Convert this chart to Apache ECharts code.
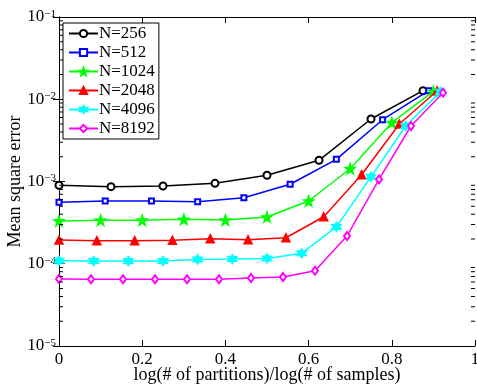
<!DOCTYPE html>
<html><head><meta charset="utf-8">
<script src="https://cdn.jsdelivr.net/npm/echarts@6/dist/echarts.min.js"></script>
<style>html,body{margin:0;padding:0;background:#fff}#c{width:477px;height:384px}</style>
</head><body><div id="c"></div>
<script>
const seriesNames = ['N=256', 'N=512', 'N=1024', 'N=2048', 'N=4096', 'N=8192'];
const x256 = [0, 0.125, 0.25, 0.375, 0.5, 0.625, 0.75, 0.875];
const y256 = [9.0e-4, 8.65e-4, 8.82e-4, 9.5e-4, 1.19e-3, 1.81e-3, 5.75e-3, 1.27e-2];
const x512 = [0, 0.1111, 0.2222, 0.3333, 0.4444, 0.5556, 0.6667, 0.7778, 0.8889];
const y512 = [5.58e-4, 5.79e-4, 5.79e-4, 5.68e-4, 6.35e-4, 9.25e-4, 1.86e-3, 5.64e-3, 1.27e-2];
const x1024 = [0, 0.1, 0.2, 0.3, 0.4, 0.5, 0.6, 0.7, 0.8, 0.9];
const y1024 = [3.31e-4, 3.38e-4, 3.38e-4, 3.47e-4, 3.40e-4, 3.70e-4, 5.79e-4, 1.43e-3, 5.19e-3, 1.25e-2];
const x2048 = [0, 0.0909, 0.1818, 0.2727, 0.3636, 0.4545, 0.5455, 0.6364, 0.7273, 0.8182, 0.9091];
const y2048 = [1.94e-4, 1.91e-4, 1.91e-4, 1.93e-4, 2.02e-4, 1.96e-4, 2.07e-4, 3.73e-4, 1.21e-3, 5.0e-3, 1.27e-2];
const x4096 = [0, 0.0833, 0.1667, 0.25, 0.3333, 0.4167, 0.5, 0.5833, 0.6667, 0.75, 0.8333, 0.9167];
const y4096 = [1.09e-4, 1.08e-4, 1.08e-4, 1.08e-4, 1.13e-4, 1.14e-4, 1.16e-4, 1.34e-4, 2.80e-4, 1.14e-3, 4.73e-3, 1.23e-2];
const x8192 = [0, 0.0769, 0.1538, 0.2308, 0.3077, 0.3846, 0.4615, 0.5385, 0.6154, 0.6923, 0.7692, 0.8462, 0.9231];
const y8192 = [6.53e-5, 6.47e-5, 6.47e-5, 6.47e-5, 6.47e-5, 6.47e-5, 6.71e-5, 6.90e-5, 8.23e-5, 2.17e-4, 1.06e-3, 4.73e-3, 1.20e-2];
const xTicks = [0, 0.2, 0.4, 0.6, 0.8, 1];
const yDecades = [-5, -4, -3, -2, -1];
const minorMantissas = [2, 3, 4, 5, 6, 7, 8, 9];

const FONT = 'Liberation Serif';
const pentagram = 'path://M0,-10 L2.35,-3.24 9.51,-3.09 3.80,1.24 5.88,8.09 0,4 -5.88,8.09 -3.80,1.24 -9.51,-3.09 -2.35,-3.24 Z';
const hexagram = 'path://M0,-10 L2.89,-5 8.66,-5 5.77,0 8.66,5 2.89,5 0,10 -2.89,5 -8.66,5 -5.77,0 -8.66,-5 -2.89,-5 Z';

const xs = [x256, x512, x1024, x2048, x4096, x8192];
const ys = [y256, y512, y1024, y2048, y4096, y8192];
const colors = ['#000000', '#0000ff', '#00ff00', '#ff0000', '#00ffff', '#ff00ff'];
const symbols = ['emptyCircle', 'emptyRect', pentagram, 'triangle', hexagram, 'emptyDiamond'];
const sizes = [7, 5, 10, 8, 9, [6, 8]];

const minorVals = [];
for (let i = 0; i < yDecades.length - 1; i++) {
  for (const m of minorMantissas) minorVals.push([0, m * Math.pow(10, yDecades[i])]);
}

const lineSeries = seriesNames.map((name, i) => ({
  name: name,
  type: 'line',
  data: xs[i].map((x, j) => [x, ys[i][j]]),
  symbol: symbols[i],
  symbolSize: sizes[i],
  showAllSymbol: true,
  lineStyle: { color: colors[i], width: 1.5 },
  itemStyle: { color: colors[i], borderColor: colors[i], borderWidth: 1.5 },
  emphasis: { disabled: true },
  z: 3 + i,
  animation: false
}));

const minorSeries = {
  type: 'custom',
  silent: true,
  animation: false,
  clip: false,
  z: 20,
  data: minorVals,
  encode: { x: 0, y: 1 },
  renderItem: function (params, api) {
    const v = api.value(1);
    const p0 = api.coord([0, v]);
    const p1 = api.coord([1, v]);
    return {
      type: 'group',
      children: [
        { type: 'line', shape: { x1: p0[0], y1: p0[1], x2: p0[0] + 4, y2: p0[1] }, style: { stroke: '#000', lineWidth: 1 } },
        { type: 'line', shape: { x1: p1[0] - 4, y1: p1[1], x2: p1[0], y2: p1[1] }, style: { stroke: '#000', lineWidth: 1 } }
      ]
    };
  }
};

const yLabelFmt = function (value) {
  const e = Math.round(Math.log10(value));
  return '{b|10}{s|\u2212' + (-e) + '}';
};

const chart = echarts.init(document.getElementById('c'), null, { renderer: 'canvas' });
chart.setOption({
  backgroundColor: '#fff',
  animation: false,
  grid: { left: 59, right: 2, top: 17, bottom: 38, containLabel: false, outerBoundsMode: 'none' },
  legend: {
    data: seriesNames,
    orient: 'vertical',
    left: 63,
    top: 23,
    padding: [2, 4, 2, 5],
    itemWidth: 29,
    itemHeight: 9,
    itemGap: 2,
    backgroundColor: '#fff',
    borderColor: '#000',
    borderWidth: 1,
    textStyle: { fontFamily: FONT, fontSize: 17, color: '#000', padding: [0, 0, 0, -4] },
    selectedMode: false
  },
  xAxis: [{
    type: 'value', min: 0, max: 1, interval: 0.2, position: 'bottom',
    name: 'log(# of partitions)/log(# of samples)', nameLocation: 'middle', nameGap: 20,
    nameMoveOverlap: false,
    nameTextStyle: { fontFamily: FONT, fontSize: 18, color: '#000' },
    axisLine: { show: true, lineStyle: { color: '#000', width: 1 } },
    axisTick: { show: true, inside: true, length: 6, lineStyle: { color: '#000' } },
    axisLabel: { fontFamily: FONT, fontSize: 17, color: '#000', margin: 5, showMaxLabel: true,
      formatter: function (v) { return String(Math.round(v * 10) / 10); } },
    splitLine: { show: false }
  }, {
    type: 'value', min: 0, max: 1, interval: 0.2, position: 'top',
    axisLine: { show: true, lineStyle: { color: '#000', width: 1 } },
    axisTick: { show: true, inside: true, length: 6, lineStyle: { color: '#000' } },
    axisLabel: { show: false }, splitLine: { show: false }
  }],
  yAxis: [{
    type: 'log', logBase: 10, min: 1e-5, max: 1e-1, position: 'left',
    name: 'Mean square error', nameLocation: 'middle', nameGap: 35, nameRotate: 90,
    nameMoveOverlap: false,
    nameTextStyle: { fontFamily: FONT, fontSize: 18, color: '#000' },
    axisLine: { show: true, lineStyle: { color: '#000', width: 1 } },
    axisTick: { show: true, inside: true, length: 6, lineStyle: { color: '#000' } },
    axisLabel: {
      margin: 3, formatter: yLabelFmt,
      rich: {
        b: { fontFamily: FONT, fontSize: 17, color: '#000', lineHeight: 17 },
        s: { fontFamily: FONT, fontSize: 11, color: '#000', verticalAlign: 'top', lineHeight: 11, padding: [0, 0, 8, 0] }
      }
    },
    splitLine: { show: false }, minorTick: { show: false }
  }, {
    type: 'log', logBase: 10, min: 1e-5, max: 1e-1, position: 'right',
    axisLine: { show: true, lineStyle: { color: '#000', width: 1 } },
    axisTick: { show: true, inside: true, length: 6, lineStyle: { color: '#000' } },
    axisLabel: { show: false }, splitLine: { show: false }
  }],
  series: lineSeries.concat([minorSeries])
});
</script>
</body></html>
